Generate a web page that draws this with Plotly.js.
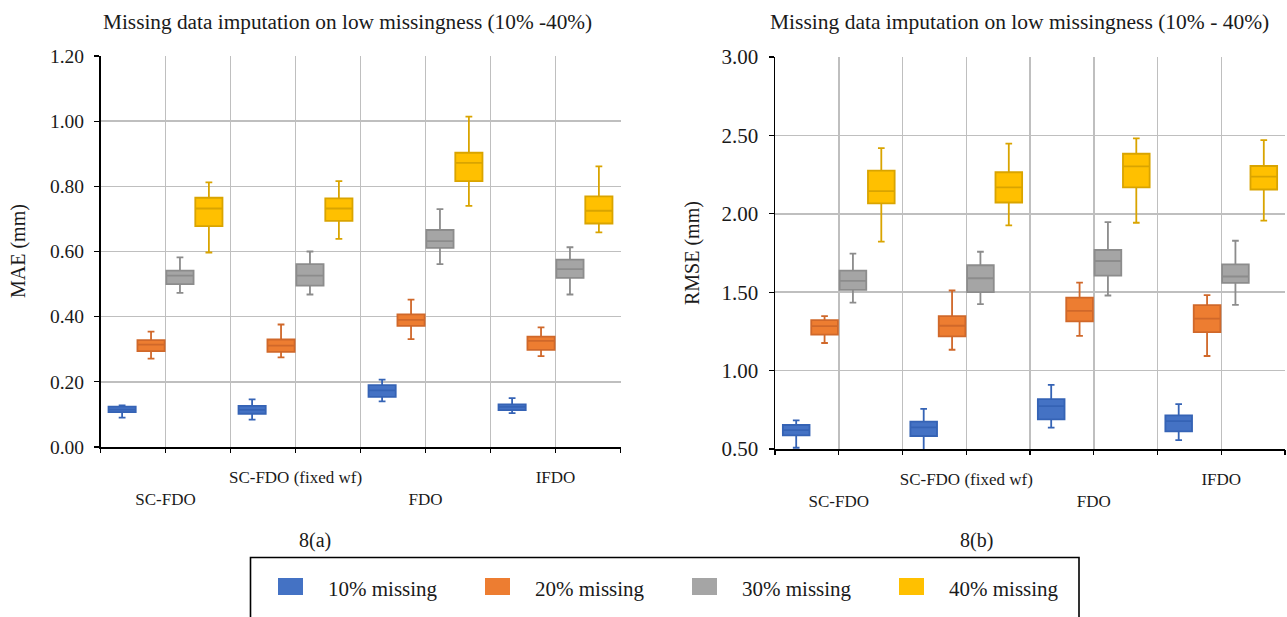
<!DOCTYPE html>
<html>
<head>
<meta charset="utf-8">
<script src="https://cdn.plot.ly/plotly-3.0.1.min.js"></script>
<style>
html,body{margin:0;padding:0;background:#fff;}
#chart{width:1287px;height:617px;}
</style>
</head>
<body>
<div id="chart"></div>
<script>
// ---- data ----
const categories = ['SC-FDO', 'SC-FDO (fixed wf)', 'FDO', 'IFDO'];
const seriesNames = ['10% missing', '20% missing', '30% missing', '40% missing'];
const titleA = 'Missing data imputation on low missingness (10% -40%)';
const titleB = 'Missing data imputation on low missingness (10% - 40%)';
const yTitleA = 'MAE (mm)';
const yTitleB = 'RMSE (mm)';
const subLabels = ['8(a)', '8(b)'];

// each row: [lower whisker, Q1, median, Q3, upper whisker] per category
const mae10 = [[0.090,0.107,0.115,0.124,0.128],[0.084,0.102,0.114,0.126,0.146],[0.140,0.154,0.174,0.190,0.207],[0.104,0.113,0.123,0.131,0.150]];
const mae20 = [[0.271,0.294,0.314,0.328,0.354],[0.275,0.292,0.311,0.330,0.376],[0.331,0.372,0.390,0.407,0.452],[0.279,0.298,0.326,0.339,0.367]];
const mae30 = [[0.473,0.500,0.526,0.541,0.582],[0.468,0.495,0.526,0.561,0.600],[0.561,0.611,0.632,0.666,0.730],[0.468,0.519,0.546,0.575,0.613]];
const mae40 = [[0.597,0.678,0.732,0.765,0.812],[0.639,0.694,0.732,0.763,0.816],[0.740,0.816,0.872,0.903,1.014],[0.659,0.686,0.725,0.769,0.861]];

const rmse10 = [[0.508,0.587,0.621,0.653,0.682],[0.495,0.583,0.638,0.674,0.756],[0.636,0.689,0.773,0.818,0.909],[0.557,0.612,0.678,0.714,0.786]];
const rmse20 = [[1.176,1.229,1.284,1.322,1.347],[1.133,1.218,1.286,1.347,1.511],[1.222,1.314,1.381,1.466,1.561],[1.093,1.246,1.331,1.417,1.481]];
const rmse30 = [[1.434,1.515,1.572,1.638,1.746],[1.424,1.500,1.589,1.672,1.758],[1.479,1.606,1.699,1.769,1.947],[1.419,1.559,1.600,1.678,1.828]];
const rmse40 = [[1.822,2.066,2.144,2.275,2.419],[1.926,2.072,2.169,2.265,2.447],[1.943,2.169,2.303,2.383,2.481],[1.956,2.155,2.237,2.305,2.470]];

const fillColors = ['#4472C4', '#ED7D31', '#A5A5A5', '#FFC000'];
const lineColors = ['#3563B5', '#D0682A', '#8C8C8C', '#D9A400'];

// ---- build ----
const W = 1287, H = 617;
const FONT = 'Liberation Serif, Times New Roman, serif';
const TXT = '#1a1a1a';
const GRID = '#BFBFBF';

const maeSeries = [mae10, mae20, mae30, mae40];
const rmseSeries = [rmse10, rmse20, rmse30, rmse40];

function boxTrace(rows, i, xa, ya, grp) {
  return {
    type: 'box',
    name: seriesNames[i],
    x: categories,
    lowerfence: rows.map(r => r[0]),
    q1: rows.map(r => r[1]),
    median: rows.map(r => r[2]),
    q3: rows.map(r => r[3]),
    upperfence: rows.map(r => r[4]),
    boxpoints: false,
    fillcolor: fillColors[i],
    line: {color: lineColors[i], width: 1.8},
    whiskerwidth: 0.25,
    alignmentgroup: grp,
    offsetgroup: 's' + i,
    xaxis: xa, yaxis: ya,
    showlegend: false,
    hoverinfo: 'skip'
  };
}

const data = [];
maeSeries.forEach((s, i) => data.push(boxTrace(s, i, 'x', 'y', 'mae')));
rmseSeries.forEach((s, i) => data.push(boxTrace(s, i, 'x2', 'y2', 'rmse')));
// empty traces to attach the grid/tick overlay axes
data.push({type: 'scatter', x: [], y: [], xaxis: 'x3', yaxis: 'y', showlegend: false, hoverinfo: 'skip'});
data.push({type: 'scatter', x: [], y: [], xaxis: 'x4', yaxis: 'y2', showlegend: false, hoverinfo: 'skip'});

const n = categories.length;
const stagger = categories.map((c, i) => (i % 2 === 0 ? '<br>' + c : c));

function catAxis(domain, anchor) {
  return {
    domain: domain, anchor: anchor, type: 'category',
    range: [-0.5, n - 0.5],
    showgrid: false, zeroline: false,
    showline: true, linecolor: '#000', linewidth: 1.5,
    ticks: '', tickvals: categories, ticktext: stagger,
    ticklabelstandoff: 14,
    tickfont: {family: FONT, size: 17, color: TXT},
    fixedrange: true
  };
}
function gridAxis(over, anchor) {
  return {
    overlaying: over, anchor: anchor, type: 'linear',
    range: [-0.5, n - 0.5], tick0: -0.5, dtick: 0.5,
    showgrid: true, gridcolor: GRID, gridwidth: 1.5,
    ticks: 'outside', ticklen: 5, tickwidth: 1.2, tickcolor: '#000',
    showticklabels: false, zeroline: false, showline: false,
    fixedrange: true
  };
}
function valAxis(domain, anchor, range, dtick, fs) {
  return {
    domain: domain, anchor: anchor, range: range, dtick: dtick, tick0: range[0],
    tickformat: '.2f',
    showgrid: true, gridcolor: GRID, gridwidth: 1.5,
    zeroline: false, showline: true, linecolor: '#000', linewidth: 1.5,
    ticks: 'outside', ticklen: 5, tickwidth: 1.2, tickcolor: '#000',
    ticklabelstandoff: 6,
    tickfont: {family: FONT, size: fs, color: TXT},
    fixedrange: true
  };
}

const px = v => v / W;
const py = v => 1 - v / H;

const annotations = [
  {text: titleA, x: px(347.5), y: py(22), xref: 'paper', yref: 'paper', showarrow: false,
   xanchor: 'center', yanchor: 'middle', font: {family: FONT, size: 21.3, color: TXT}},
  {text: titleB, x: px(1019), y: py(22), xref: 'paper', yref: 'paper', showarrow: false,
   xanchor: 'center', yanchor: 'middle', font: {family: FONT, size: 21.5, color: TXT}},
  {text: yTitleA, x: px(19), y: py(251), xref: 'paper', yref: 'paper', showarrow: false, textangle: -90,
   xanchor: 'center', yanchor: 'middle', font: {family: FONT, size: 20, color: TXT}},
  {text: yTitleB, x: px(692), y: py(253), xref: 'paper', yref: 'paper', showarrow: false, textangle: -90,
   xanchor: 'center', yanchor: 'middle', font: {family: FONT, size: 20, color: TXT}},
  {text: subLabels[0], x: px(315), y: py(540), xref: 'paper', yref: 'paper', showarrow: false,
   xanchor: 'center', yanchor: 'middle', font: {family: FONT, size: 20, color: TXT}},
  {text: subLabels[1], x: px(976), y: py(540), xref: 'paper', yref: 'paper', showarrow: false,
   xanchor: 'center', yanchor: 'middle', font: {family: FONT, size: 20, color: TXT}}
];

const shapes = [
  {type: 'rect', xref: 'paper', yref: 'paper', x0: px(250.5), x1: px(1079), y0: py(625), y1: py(557.5),
   line: {color: '#000', width: 1.6}, fillcolor: 'rgba(0,0,0,0)'}
];
const legStep = 207;
seriesNames.forEach((name, i) => {
  const x0 = 278 + i * legStep;
  shapes.push({type: 'rect', xref: 'paper', yref: 'paper', x0: px(x0), x1: px(x0 + 25), y0: py(595), y1: py(578),
    line: {width: 0}, fillcolor: fillColors[i]});
  annotations.push({text: name, x: px(x0 + 48), y: py(589), xref: 'paper', yref: 'paper', showarrow: false,
    xanchor: 'left', yanchor: 'middle', font: {family: FONT, size: 21, color: TXT}});
});

const layout = {
  width: W, height: H,
  margin: {l: 0, r: 0, t: 0, b: 0},
  paper_bgcolor: '#fff', plot_bgcolor: '#fff',
  boxmode: 'group', boxgap: 0.11, boxgroupgap: 0.06,
  showlegend: false,
  xaxis: catAxis([px(100.5), px(620.5)], 'y'),
  xaxis2: catAxis([px(775), px(1285)], 'y2'),
  xaxis3: gridAxis('x', 'y'),
  xaxis4: gridAxis('x2', 'y2'),
  yaxis: valAxis([py(447), py(56)], 'x', [0, 1.2], 0.2, 19.5),
  yaxis2: valAxis([py(449), py(57)], 'x2', [0.5, 3.0], 0.5, 21),
  annotations: annotations,
  shapes: shapes
};

Plotly.newPlot('chart', data, layout, {displayModeBar: false, staticPlot: true});
</script>
</body>
</html>
